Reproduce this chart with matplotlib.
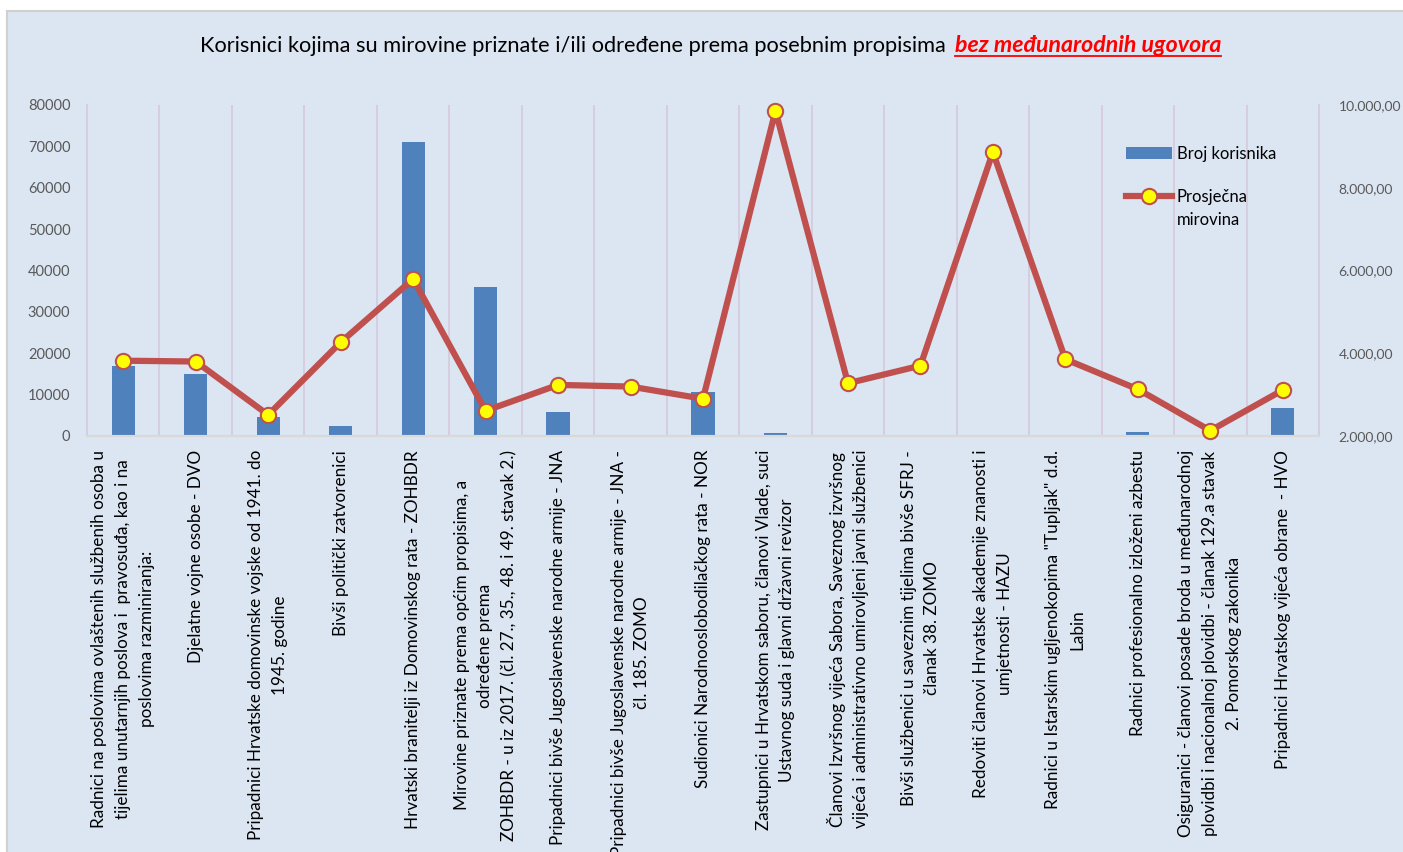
import matplotlib
matplotlib.use("Agg")
import matplotlib.pyplot as plt
from matplotlib.patches import Rectangle
from matplotlib.lines import Line2D
import numpy as np

plt.rcParams['font.family'] = ['Lato', 'DejaVu Sans']

categories = [
    "Radnici na poslovima ovlaštenih službenih osoba u\ntijelima unutarnjih poslova i  pravosuđa, kao i na\nposlovima razminiranja:",
    "Djelatne vojne osobe - DVO",
    "Pripadnici Hrvatske domovinske vojske od 1941. do\n1945. godine",
    "Bivši politički zatvorenici",
    "Hrvatski branitelji iz Domovinskog rata - ZOHBDR",
    "Mirovine priznate prema općim propisima, a\nodređene prema\nZOHBDR - u iz 2017. (čl. 27., 35., 48. i 49. stavak 2.)",
    "Pripadnici bivše Jugoslavenske narodne armije - JNA",
    "Pripadnici bivše Jugoslavenske narodne armije - JNA -\nčl. 185. ZOMO",
    "Sudionici Narodnooslobodilačkog rata - NOR",
    "Zastupnici u Hrvatskom saboru, članovi Vlade, suci\nUstavnog suda i glavni državni revizor",
    "Članovi Izvršnog vijeća Sabora, Saveznog izvršnog\nvijeća i administrativno umirovljeni javni službenici",
    "Bivši službenici u saveznim tijelima bivše SFRJ -\nčlanak 38. ZOMO",
    "Redoviti članovi Hrvatske akademije znanosti i\numjetnosti - HAZU",
    "Radnici u Istarskim ugljenokopima \"Tupljak\" d.d.\nLabin",
    "Radnici profesionalno izloženi azbestu",
    "Osiguranici - članovi posade broda u međunarodnoj\nplovidbi i nacionalnoj plovidbi - članak 129.a stavak\n2. Pomorskog zakonika",
    "Pripadnici Hrvatskog vijeća obrane  - HVO",
]

broj_korisnika = [16900, 15100, 4500, 2500, 71000, 36000, 5800, 100, 10600,
                  650, 80, 100, 150, 250, 900, 60, 6800]
prosjecna_mirovina = [3820, 3800, 2510, 4265, 5795, 2610, 3235, 3195, 2900,
                      9860, 3275, 3700, 8860, 3855, 3130, 2130, 3110]

left_ticks = [0, 10000, 20000, 30000, 40000, 50000, 60000, 70000, 80000]
right_ticks = [2000, 4000, 6000, 8000, 10000]
right_labels = ["2.000,00", "4.000,00", "6.000,00", "8.000,00", "10.000,00"]

W, H = 1403, 852
fig = plt.figure(figsize=(W / 100, H / 100), dpi=100, facecolor='white')

# chart area (Excel-like light blue with grey border on left/top)
bg = Rectangle((7 / W, -0.1), 1.0, 1.1 - 11 / H, transform=fig.transFigure,
               facecolor='#DCE6F2', edgecolor='#D0D0D0', linewidth=1.5, zorder=-10)
fig.patches.append(bg)

ax = fig.add_axes([87 / W, 1 - 436 / H, (1319 - 87) / W, (436 - 105) / H])
ax.set_facecolor('none')
x = np.arange(len(categories))

bars = ax.bar(x, broj_korisnika, width=0.32, color='#4F81BD', zorder=2)
ax.set_xlim(-0.5, len(categories) - 0.5)
ax.set_ylim(0, 80000)
ax.set_yticks(left_ticks)
ax.set_yticklabels([str(t) for t in left_ticks])

for b in np.arange(0.5, len(categories) - 0.5, 1):
    ax.axvline(b, color='#D5C8DE', linewidth=1.2, zorder=1)

ax.set_xticks(x)
ax.set_xticklabels(categories, rotation=90, ha='center', va='top',
                   fontsize=12.3, linespacing=1.6, color='black')
ax.tick_params(axis='x', length=0, pad=10)
ax.tick_params(axis='y', length=0, pad=12, labelsize=10.5, labelcolor='#595959')
for s in ['top', 'right']:
    ax.spines[s].set_visible(False)
ax.spines['left'].set_color('#D5C8DE')
ax.spines['left'].set_linewidth(1.2)
ax.spines['bottom'].set_color('#D9D9D9')
ax.spines['bottom'].set_linewidth(1.5)

ax2 = ax.twinx()
line, = ax2.plot(x, prosjecna_mirovina, color='#C0504D', linewidth=4.5, marker='o',
                 markersize=11, markerfacecolor='#FFFF00', markeredgecolor='#C0504D',
                 markeredgewidth=1.5, zorder=3, clip_on=False)
ax2.set_ylim(2000, 10000)
ax2.set_yticks(right_ticks)
ax2.set_yticklabels(right_labels)
ax2.tick_params(axis='y', length=0, pad=14, labelsize=10, labelcolor='#595959')
for s in ['top', 'left']:
    ax2.spines[s].set_visible(False)
ax2.spines['bottom'].set_color('#D9D9D9')
ax2.spines['bottom'].set_linewidth(1.5)
ax2.spines['right'].set_color('#D5C8DE')
ax2.spines['right'].set_linewidth(1.2)

leg = fig.legend(handles=[bars, line], labels=['Broj korisnika', 'Prosječna'],
                 loc='upper left', bbox_to_anchor=(1111 / W, 1 - 131 / H), frameon=False,
                 fontsize=12, handlelength=2.75, handletextpad=0.3, labelspacing=1.6)

t1 = fig.text(946 / W, 1 - 46 / H,
              "Korisnici kojima su mirovine priznate i/ili određene prema posebnim propisima",
              ha='right', va='center', fontsize=15.7, color='black')
t2 = fig.text(955 / W, 1 - 46 / H, "bez međunarodnih ugovora",
              ha='left', va='center', fontsize=16.7, color='#FF0000',
              fontweight='bold', fontstyle='italic')

fig.canvas.draw()
renderer = fig.canvas.get_renderer()
bb = t2.get_window_extent(renderer)
uy = bb.y0 + 1
fig.add_artist(Line2D([bb.x0 / W, bb.x1 / W], [uy / H, uy / H],
                      transform=fig.transFigure, color='#FF0000', linewidth=1.3))

# second line of the legend label sits under the first one
lb = leg.get_texts()[1].get_window_extent(renderer)
fig.text(lb.x0 / W, (lb.y0 - 23) / H, "mirovina", ha='left', va='bottom',
         fontsize=12, color='black')

fig.savefig('out.png', dpi=100, facecolor=fig.get_facecolor())
